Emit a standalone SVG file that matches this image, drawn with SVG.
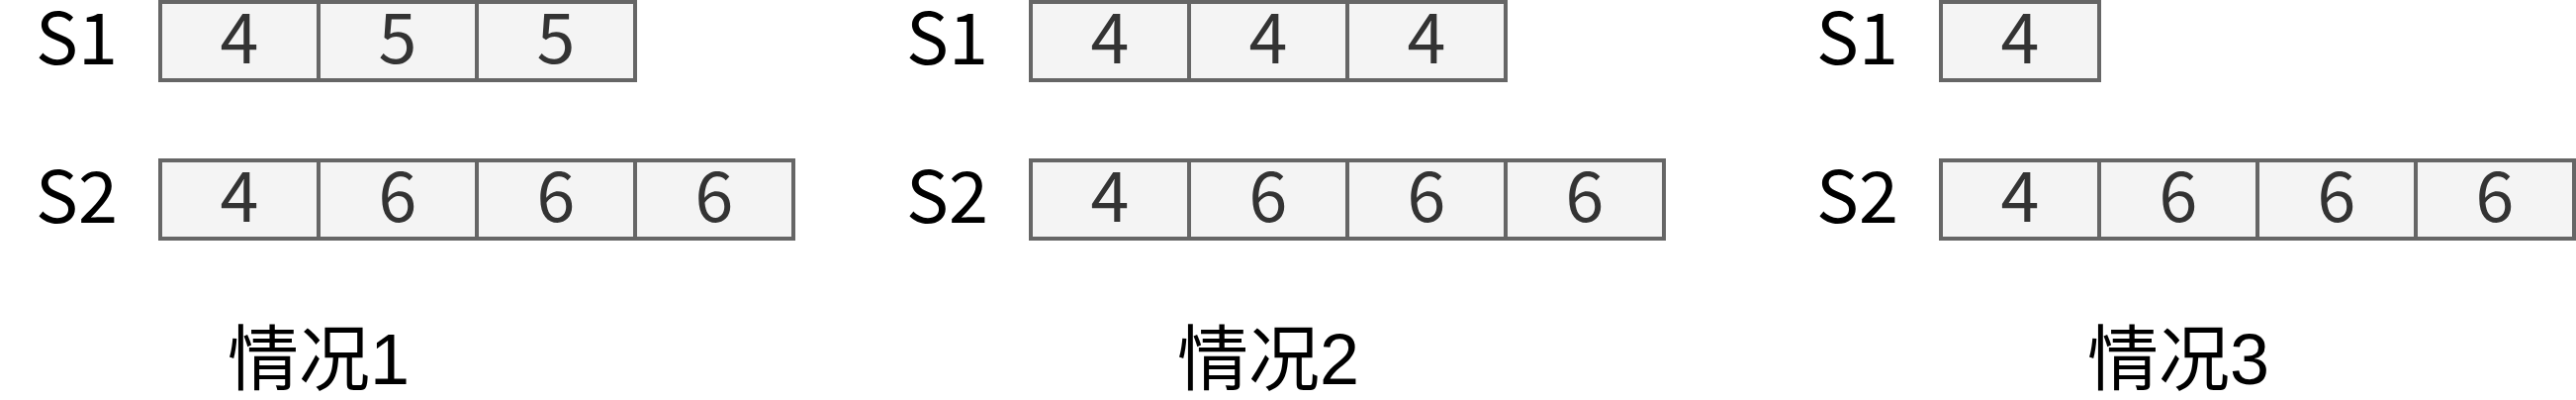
<svg xmlns="http://www.w3.org/2000/svg" width="2604" height="404" viewBox="0 0 2604 404">
<style>
.c{fill:#f4f4f4;stroke:#666;stroke-width:4}
.v{font-family:"Noto Sans CJK SC","Noto Sans",sans-serif;font-size:70px;fill:#333;text-anchor:middle}
.s{font-family:"Noto Sans CJK SC","Noto Sans",sans-serif;font-size:72px;fill:#000}
.t{font-family:"Liberation Sans","Noto Sans CJK SC",sans-serif;font-size:72px;fill:#000}
</style>
<rect width="2604" height="404" fill="#fff"/>
<g id="case1">
<text class="s" x="36" y="65">S1</text>
<text class="s" x="36" y="225">S2</text>
<rect class="c" x="162" y="2" width="160" height="79"/><text class="v" x="242" y="64">4</text>
<rect class="c" x="322" y="2" width="160" height="79"/><text class="v" x="402" y="64">5</text>
<rect class="c" x="482" y="2" width="160" height="79"/><text class="v" x="562" y="64">5</text>
<rect class="c" x="162" y="162" width="160" height="79"/><text class="v" x="242" y="224">4</text>
<rect class="c" x="322" y="162" width="160" height="79"/><text class="v" x="402" y="224">6</text>
<rect class="c" x="482" y="162" width="160" height="79"/><text class="v" x="562" y="224">6</text>
<rect class="c" x="642" y="162" width="160" height="79"/><text class="v" x="722" y="224">6</text>
<text class="t" x="230" y="388">情况1</text>
</g>
<g id="case2">
<text class="s" x="916" y="65">S1</text>
<text class="s" x="916" y="225">S2</text>
<rect class="c" x="1042" y="2" width="160" height="79"/><text class="v" x="1122" y="64">4</text>
<rect class="c" x="1202" y="2" width="160" height="79"/><text class="v" x="1282" y="64">4</text>
<rect class="c" x="1362" y="2" width="160" height="79"/><text class="v" x="1442" y="64">4</text>
<rect class="c" x="1042" y="162" width="160" height="79"/><text class="v" x="1122" y="224">4</text>
<rect class="c" x="1202" y="162" width="160" height="79"/><text class="v" x="1282" y="224">6</text>
<rect class="c" x="1362" y="162" width="160" height="79"/><text class="v" x="1442" y="224">6</text>
<rect class="c" x="1522" y="162" width="160" height="79"/><text class="v" x="1602" y="224">6</text>
<text class="t" x="1190" y="388">情况2</text>
</g>
<g id="case3">
<text class="s" x="1836" y="65">S1</text>
<text class="s" x="1836" y="225">S2</text>
<rect class="c" x="1962" y="2" width="160" height="79"/><text class="v" x="2042" y="64">4</text>
<rect class="c" x="1962" y="162" width="160" height="79"/><text class="v" x="2042" y="224">4</text>
<rect class="c" x="2122" y="162" width="160" height="79"/><text class="v" x="2202" y="224">6</text>
<rect class="c" x="2282" y="162" width="160" height="79"/><text class="v" x="2362" y="224">6</text>
<rect class="c" x="2442" y="162" width="160" height="79"/><text class="v" x="2522" y="224">6</text>
<text class="t" x="2110" y="388">情况3</text>
</g>
<g id="connectors"></g>
</svg>
